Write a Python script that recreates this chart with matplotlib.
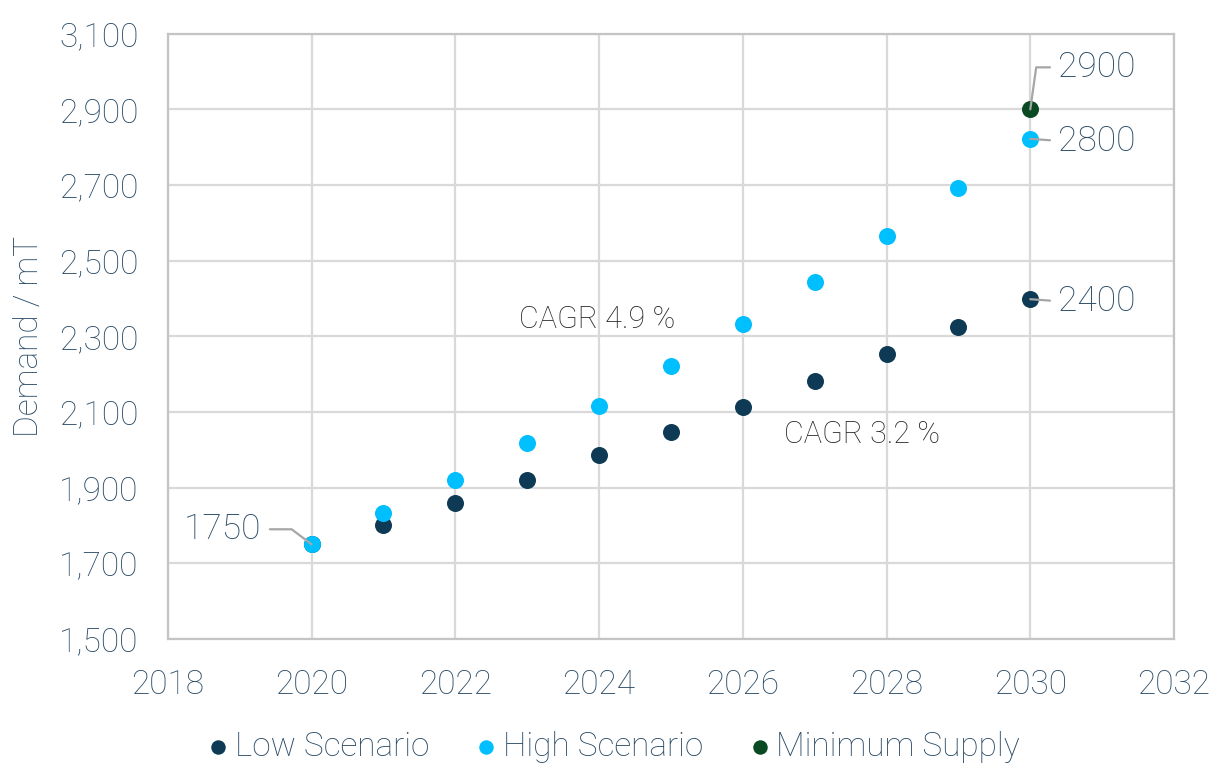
import matplotlib
matplotlib.use("Agg")
import matplotlib.pyplot as plt
from matplotlib.ticker import FuncFormatter

years = [2020, 2021, 2022, 2023, 2024, 2025, 2026, 2027, 2028, 2029, 2030]
low_scenario = [1750, 1802, 1860, 1921, 1985, 2046, 2112, 2181, 2252, 2324, 2398]
high_scenario = [1750, 1834, 1921, 2019, 2115, 2221, 2332, 2443, 2565, 2692, 2822]
min_supply_year = [2030]
min_supply = [2900]

series_names = ["Low Scenario", "High Scenario", "Minimum Supply"]
point_labels = ["1750", "2400", "2800", "2900"]
cagr_labels = ["CAGR 4.9 %", "CAGR 3.2 %"]
x_ticks = [2018, 2020, 2022, 2024, 2026, 2028, 2030, 2032]
y_ticks = [1500, 1700, 1900, 2100, 2300, 2500, 2700, 2900, 3100]

c_low = "#0e3a55"
c_high = "#00bfff"
c_min = "#0a4a22"
c_text = "#2a4b66"
c_lead = "#a6a6a6"

plt.rcParams['font.family'] = ['Roboto', 'DejaVu Sans']
plt.rcParams['font.weight'] = 'light'
plt.rcParams['axes.labelweight'] = 'light'

fig = plt.figure(figsize=(12.16, 7.66), dpi=100)
ax = fig.add_axes([0.138, 0.166, 0.8275, 0.790])

ax.scatter(years, low_scenario, s=150, color=c_low, zorder=3, label=series_names[0], linewidths=0)
ax.scatter(years, high_scenario, s=150, color=c_high, zorder=4, label=series_names[1], linewidths=0)
ax.scatter(min_supply_year, min_supply, s=150, color=c_min, zorder=5, label=series_names[2], linewidths=0)

ax.set_xlim(x_ticks[0], x_ticks[-1])
ax.set_ylim(y_ticks[0], y_ticks[-1])
ax.set_xticks(x_ticks)
ax.set_yticks(y_ticks)
ax.yaxis.set_major_formatter(FuncFormatter(lambda v, p: f"{int(v):,}"))
ax.grid(True, color="#d9d9d9", linewidth=1.6, zorder=0)
ax.set_axisbelow(True)
ax.tick_params(length=0, labelsize=24, colors=c_text)
ax.tick_params(axis='x', pad=22)
ax.tick_params(axis='y', pad=21)
for sp in ax.spines.values():
    sp.set_color("#c4c4c4")
    sp.set_linewidth(1.6)
ax.set_ylabel("Demand / mT", fontsize=24, color=c_text, labelpad=10, fontweight='light')

def lead(label, xy, offset, relx, angB=None):
    cs = "arc3,rad=0" if angB is None else f"angle,angleA=0,angleB={angB},rad=0"
    ax.annotate(label, xy=xy, xytext=offset, textcoords="offset pixels",
                ha="left" if relx == 0 else "right", va="center",
                fontsize=25.5, color=c_text, zorder=6,
                arrowprops=dict(arrowstyle="-", color=c_lead, lw=1.6,
                                shrinkA=4, shrinkB=0, relpos=(relx, 0.5),
                                connectionstyle=cs))

lead(point_labels[3], (min_supply_year[0], min_supply[0]), (28, 42), 0, 82)
lead(point_labels[2], (years[-1], high_scenario[-1]), (28, -2), 0)
lead(point_labels[1], (years[-1], low_scenario[-1]), (28, -2), 0)
lead(point_labels[0], (years[0], low_scenario[0]), (-50, 15), 1, -37)

ax.text(2022.88, 2345, cagr_labels[0], fontsize=22, color="#262626", va="center", ha="left")
ax.text(2026.58, 2040, cagr_labels[1], fontsize=22, color="#262626", va="center", ha="left")

fig.legend(loc="lower center", bbox_to_anchor=(0.503, -0.022), ncol=3, frameon=False,
           fontsize=24, labelcolor=c_text, handletextpad=0.05, handlelength=0.9,
           columnspacing=1.25, markerscale=0.85, borderaxespad=0.2)

fig.savefig("out.png", dpi=100)
